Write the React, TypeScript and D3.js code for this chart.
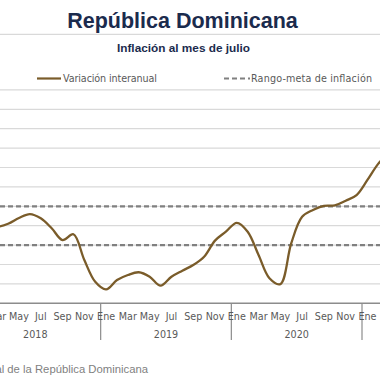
import React from "react";
import * as d3 from "d3";

const monthNames = ["Ene", "Feb", "Mar", "Abr", "May", "Jun", "Jul", "Ago", "Sep", "Oct", "Nov", "Dic"];
const years = ["2018", "2019", "2020", "2021"];
// Variación interanual (%), Jan 2018 .. Mar 2021
const inflation = [
  4.3, 4.05, 3.95, 4.1, 4.4, 4.6, 4.38, 3.87, 3.26, 3.56, 2.23, 1.11,
  0.72, 1.2, 1.46, 1.6, 1.37, 0.91, 1.37, 1.68, 1.97, 2.4, 3.23, 3.69,
  4.15, 3.69, 2.49, 1.29, 0.99, 3.09, 4.46, 4.81, 5.02, 5.05, 5.29, 5.58,
  6.36, 7.2, 7.8,
];
const targetRange = [3, 5];
const yTicks = [1, 2, 3, 4, 5, 6, 7, 8, 9, 10, 11];
const labelMonths = [0, 2, 4, 6, 8, 10];

export default function App() {
  const W = 380, H = 380;
  const months = inflation.map((_, i) => i);
  const bw = 10.889;
  const x = d3.scaleBand<number>().domain(months).range([-30, -30 + bw * months.length]).padding(0);
  const cx = (i: number) => (x(i) as number) + x.bandwidth() / 2;
  const y = d3.scaleLinear().domain([0, 11]).range([303.3, 89.9]);
  const line = d3
    .line<number>()
    .x((_, i) => cx(i))
    .y((d) => y(d))
    .curve(d3.curveCatmullRom.alpha(0.5));

  const axisFont = "'DejaVu Sans', sans-serif";
  return (
    <svg width={W} height={H} style={{ position: "absolute", left: 0, top: 0, background: "#fff" }}>
      <text x={182.5} y={28} textAnchor="middle" fontFamily="'Liberation Sans', Arial, sans-serif" fontWeight="bold" fontSize={21.5} fill="#1b2b4d">
        República Dominicana
      </text>
      <line x1={0} x2={W} y1={34.3} y2={34.3} stroke="#d9d9d9" strokeWidth={1.3} />
      <text x={183.5} y={51.5} textAnchor="middle" fontFamily="'Liberation Sans', Arial, sans-serif" fontWeight="bold" fontSize={11.8} fill="#1b2b4d">
        Inflación al mes de julio
      </text>
      {/* legend */}
      <line x1={37} x2={61} y1={78.5} y2={78.5} stroke="#7a5c2a" strokeWidth={2.2} />
      <text x={63} y={82} fontFamily={axisFont} fontSize={9.6} fill="#595959" textLength={94}>
        Variación interanual
      </text>
      <line x1={224} x2={250} y1={78.5} y2={78.5} stroke="#808080" strokeWidth={2.2} strokeDasharray="5,3" />
      <text x={251} y={82} fontFamily={axisFont} fontSize={9.6} fill="#595959" textLength={121}>
        Rango-meta de inflación
      </text>
      {/* gridlines */}
      {yTicks.map((t) => (
        <line key={t} x1={0} x2={W} y1={y(t)} y2={y(t)} stroke="#d9d9d9" strokeWidth={1.2} />
      ))}
      {targetRange.map((t) => (
        <line key={"r" + t} x1={0} x2={W} y1={y(t)} y2={y(t)} stroke="#808080" strokeWidth={2.2} strokeDasharray="5,3" />
      ))}
      <path d={line(inflation) ?? ""} fill="none" stroke="#7a5c2a" strokeWidth={2.3} />
      {/* x axis */}
      <line x1={0} x2={W} y1={y(0)} y2={y(0)} stroke="#8c8c8c" strokeWidth={1.5} />
      {[12, 24, 36].map((i) => (
        <line key={"s" + i} x1={x(i) as number} x2={x(i) as number} y1={y(0)} y2={340} stroke="#8c8c8c" strokeWidth={1.2} />
      ))}
      {months
        .filter((i) => labelMonths.includes(i % 12))
        .map((i) => (
          <text key={"m" + i} x={cx(i)} y={320} textAnchor="middle" fontFamily={axisFont} fontSize={9.6} fill="#595959">
            {monthNames[i % 12]}
          </text>
        ))}
      {years.map((yr, k) => {
        const start = x(k * 12) as number;
        return (
          <text key={yr} x={start + (bw * 12) / 2} y={338} textAnchor="middle" fontFamily={axisFont} fontSize={9.6} fill="#595959">
            {yr}
          </text>
        );
      })}
      <text x={148} y={373} textAnchor="end" fontFamily="'Liberation Sans', Arial, sans-serif" fontSize={11.3} fill="#7f7f7f">
        Fuente: Banco Central de la República Dominicana
      </text>
    </svg>
  );
}
